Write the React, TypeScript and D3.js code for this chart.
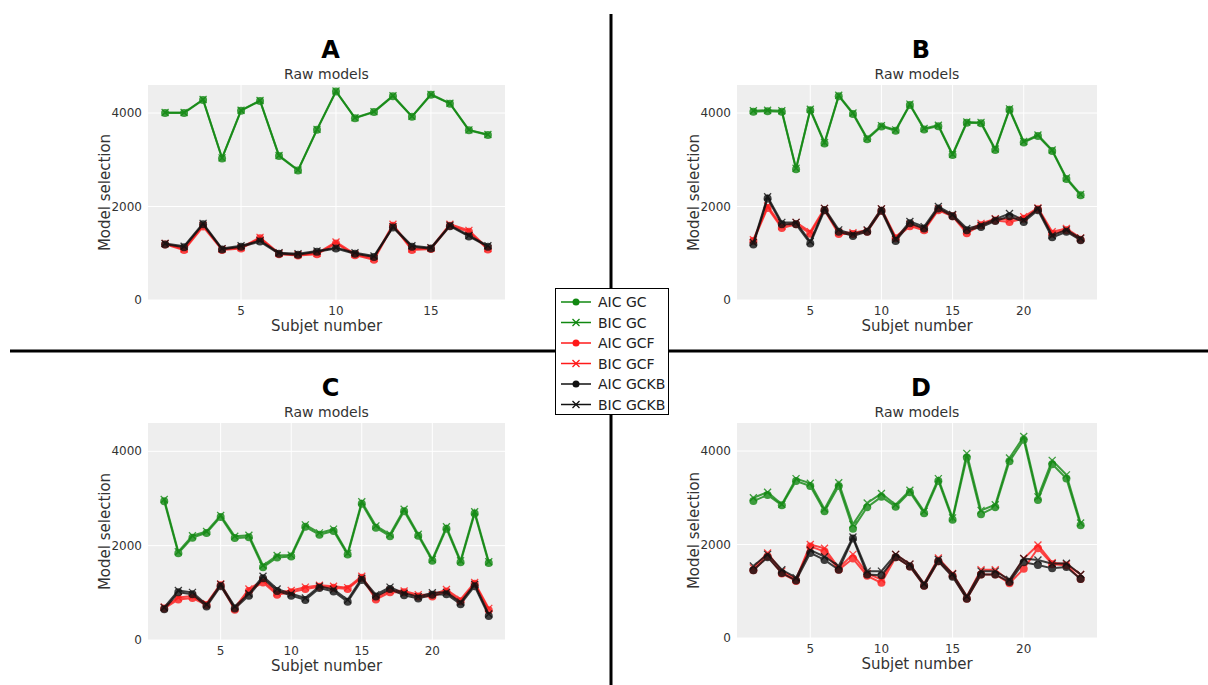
import * as d3 from 'd3'
import { useEffect, useRef } from 'react'

const seriesNames = ['AIC GC', 'BIC GC', 'AIC GCF', 'BIC GCF', 'AIC GCKB', 'BIC GCKB']
const seriesColors = ['#118811', '#118811', '#ff1a1a', '#ff1a1a', '#111111', '#111111']
const seriesMarks = ['o', 'x', 'o', 'x', 'o', 'x']
const yTicks = [0, 2000, 4000]

// panel A (18 subjects)
const aAicGC = [4000, 4000, 4280, 3030, 4050, 4260, 3080, 2770, 3640, 4460, 3890, 4020, 4360, 3920, 4390, 4200, 3630, 3530]
const aBicGC = [4010, 4010, 4290, 3040, 4060, 4270, 3090, 2780, 3650, 4470, 3900, 4030, 4370, 3930, 4400, 4210, 3640, 3540]
const aAicGCF = [1190, 1070, 1570, 1070, 1100, 1320, 980, 950, 980, 1210, 960, 860, 1590, 1070, 1090, 1590, 1460, 1080]
const aBicGCF = [1210, 1090, 1600, 1090, 1120, 1340, 1000, 970, 1000, 1240, 980, 890, 1620, 1090, 1110, 1620, 1490, 1100]
const aAicGCKB = [1190, 1130, 1620, 1080, 1140, 1250, 990, 970, 1030, 1100, 990, 920, 1550, 1140, 1100, 1580, 1360, 1140]
const aBicGCKB = [1210, 1150, 1640, 1100, 1160, 1270, 1010, 990, 1050, 1120, 1010, 940, 1570, 1160, 1120, 1600, 1380, 1160]

// panel B (24 subjects)
const bAicGC = [4030, 4040, 4030, 2800, 4060, 3350, 4360, 3980, 3440, 3710, 3620, 4170, 3650, 3720, 3100, 3790, 3780, 3210, 4070, 3370, 3510, 3190, 2590, 2240]
const bBicGC = [4050, 4060, 4050, 2820, 4080, 3370, 4380, 4000, 3460, 3730, 3640, 4190, 3670, 3740, 3120, 3810, 3800, 3230, 4090, 3390, 3530, 3210, 2610, 2260]
const bAicGCF = [1260, 1970, 1540, 1620, 1420, 1920, 1410, 1410, 1460, 1910, 1320, 1580, 1490, 1920, 1790, 1430, 1600, 1700, 1670, 1740, 1940, 1420, 1490, 1290]
const bBicGCF = [1290, 2010, 1580, 1660, 1460, 1960, 1450, 1440, 1490, 1950, 1350, 1620, 1520, 1950, 1820, 1470, 1640, 1740, 1720, 1780, 1970, 1460, 1530, 1330]
const bAicGCKB = [1190, 2170, 1620, 1620, 1210, 1920, 1460, 1370, 1460, 1910, 1260, 1640, 1530, 1960, 1790, 1490, 1560, 1690, 1790, 1670, 1920, 1340, 1460, 1280]
const bBicGCKB = [1230, 2210, 1660, 1660, 1250, 1960, 1500, 1410, 1500, 1950, 1300, 1680, 1570, 2000, 1830, 1530, 1600, 1730, 1850, 1710, 1960, 1380, 1500, 1320]

// panel C
const cAicGC = [2940, 1840, 2170, 2270, 2610, 2160, 2180, 1540, 1750, 1770, 2400, 2230, 2310, 1810, 2890, 2380, 2200, 2730, 2210, 1680, 2360, 1650, 2680, 1630]
const cBicGC = [2980, 1870, 2210, 2300, 2640, 2200, 2220, 1580, 1790, 1800, 2440, 2270, 2350, 1840, 2930, 2420, 2240, 2770, 2240, 1710, 2400, 1680, 2720, 1660]
const cAicGCF = [670, 860, 890, 740, 1160, 640, 1040, 1220, 960, 1010, 1080, 1130, 1110, 1080, 1320, 860, 1010, 1010, 920, 920, 1030, 820, 1190, 630]
const cBicGCF = [700, 900, 930, 770, 1190, 680, 1080, 1260, 1000, 1050, 1120, 1160, 1140, 1110, 1350, 900, 1050, 1040, 960, 960, 1070, 860, 1220, 670]
const cAicGCKB = [650, 1010, 970, 710, 1140, 670, 940, 1310, 1040, 940, 850, 1100, 1030, 810, 1270, 920, 1080, 950, 880, 960, 970, 760, 1140, 510]
const cBicGCKB = [690, 1050, 1010, 750, 1180, 710, 980, 1350, 1080, 980, 890, 1140, 1070, 850, 1310, 960, 1120, 990, 920, 1000, 1010, 800, 1180, 550]

// panel D
const dAicGC = [2930, 3060, 2840, 3360, 3250, 2710, 3250, 2340, 2800, 3020, 2810, 3120, 2670, 3360, 2530, 3860, 2650, 2800, 3780, 4240, 2950, 3720, 3410, 2410]
const dBicGC = [3000, 3120, 2860, 3410, 3310, 2760, 3320, 2430, 2890, 3090, 2850, 3160, 2710, 3410, 2570, 3950, 2730, 2850, 3850, 4310, 3020, 3800, 3490, 2460]
const dAicGCF = [1450, 1750, 1380, 1220, 1960, 1850, 1460, 1700, 1330, 1180, 1730, 1530, 1120, 1640, 1330, 840, 1360, 1360, 1170, 1480, 1920, 1580, 1550, 1260]
const dBicGCF = [1500, 1820, 1430, 1260, 2000, 1920, 1500, 1790, 1380, 1250, 1790, 1580, 1160, 1710, 1380, 890, 1460, 1460, 1220, 1700, 1990, 1610, 1580, 1360]
const dAicGCKB = [1450, 1730, 1390, 1230, 1820, 1670, 1460, 2130, 1360, 1340, 1730, 1530, 1120, 1640, 1310, 840, 1360, 1360, 1200, 1620, 1560, 1490, 1520, 1260]
const dBicGCKB = [1540, 1790, 1460, 1290, 1880, 1740, 1540, 2160, 1430, 1430, 1790, 1580, 1160, 1680, 1370, 890, 1430, 1430, 1250, 1700, 1670, 1590, 1600, 1360]

const panels = [
  { label: 'A', left: 148, top: 85, right: 505, bottom: 300, xMax: 18.9, xTicks: [5, 10, 15],
    series: [aAicGC, aBicGC, aAicGCF, aBicGCF, aAicGCKB, aBicGCKB] },
  { label: 'B', left: 737, top: 85, right: 1097, bottom: 300, xMax: 25.15, xTicks: [5, 10, 15, 20],
    series: [bAicGC, bBicGC, bAicGCF, bBicGCF, bAicGCKB, bBicGCKB] },
  { label: 'C', left: 148, top: 423, right: 505, bottom: 640, xMax: 25.15, xTicks: [5, 10, 15, 20],
    series: [cAicGC, cBicGC, cAicGCF, cBicGCF, cAicGCKB, cBicGCKB] },
  { label: 'D', left: 737, top: 423, right: 1097, bottom: 638, xMax: 25.15, xTicks: [5, 10, 15, 20],
    series: [dAicGC, dBicGC, dAicGCF, dBicGCF, dAicGCKB, dBicGCKB] },
]

export default function App() {
  const svgRef = useRef(null) as any

  useEffect(() => {
    const svg = d3.select(svgRef.current)
    svg.selectAll('*').remove()
    const font = '"DejaVu Sans", sans-serif'

    panels.forEach(p => {
      const n = p.series[0].length
      const xMin = n === 18 ? 0.1 : -0.15
      const x = d3.scaleLinear().domain([xMin, p.xMax]).range([p.left, p.right])
      const y = d3.scaleLinear().domain([0, 4600]).range([p.bottom, p.top])
      const g = svg.append('g')
      g.append('rect').attr('x', p.left).attr('y', p.top)
        .attr('width', p.right - p.left).attr('height', p.bottom - p.top).attr('fill', '#eeeeee')
      p.xTicks.forEach(t => {
        g.append('line').attr('x1', x(t)).attr('x2', x(t)).attr('y1', p.top).attr('y2', p.bottom)
          .attr('stroke', '#fff').attr('stroke-width', 1)
        g.append('text').attr('x', x(t)).attr('y', p.bottom + 15).attr('text-anchor', 'middle')
          .attr('font-size', 12).attr('fill', '#333').attr('font-family', font).text(t)
      })
      yTicks.forEach(t => {
        g.append('line').attr('x1', p.left).attr('x2', p.right).attr('y1', y(t)).attr('y2', y(t))
          .attr('stroke', '#fff').attr('stroke-width', 1)
        g.append('text').attr('x', p.left - 6).attr('y', y(t) + 4).attr('text-anchor', 'end')
          .attr('font-size', 12).attr('fill', '#333').attr('font-family', font).text(t)
      })
      const cx = (p.left + p.right) / 2
      g.append('text').attr('x', cx + 4).attr('y', p.top - 27).attr('text-anchor', 'middle')
        .attr('font-size', 24).attr('font-weight', 'bold').attr('font-family', font).text(p.label)
      g.append('text').attr('x', cx).attr('y', p.top - 6).attr('text-anchor', 'middle')
        .attr('font-size', 14).attr('fill', '#333').attr('font-family', font).text('Raw models')
      g.append('text').attr('x', cx).attr('y', p.bottom + 31).attr('text-anchor', 'middle')
        .attr('font-size', 15).attr('fill', '#333').attr('font-family', font).text('Subjet number')
      g.append('text').attr('transform', `translate(${p.left - 38},${(p.top + p.bottom) / 2}) rotate(-90)`)
        .attr('text-anchor', 'middle').attr('font-size', 15).attr('fill', '#333')
        .attr('font-family', font).text('Model selection')

      const line = d3.line<number>().x((_, i) => x(i + 1)).y(d => y(d))
      p.series.forEach((vals, si) => {
        const c = seriesColors[si]
        const sg = g.append('g').attr('opacity', 0.8)
        sg.append('path').attr('d', line(vals)).attr('fill', 'none').attr('stroke', c).attr('stroke-width', 2)
        vals.forEach((v, i) => {
          if (seriesMarks[si] === 'o') {
            sg.append('circle').attr('cx', x(i + 1)).attr('cy', y(v)).attr('r', 4).attr('fill', c)
          } else {
            const s = 3.5
            sg.append('path')
              .attr('d', `M${x(i + 1) - s},${y(v) - s}L${x(i + 1) + s},${y(v) + s}M${x(i + 1) - s},${y(v) + s}L${x(i + 1) + s},${y(v) - s}`)
              .attr('stroke', c).attr('stroke-width', 1.3)
          }
        })
      })
    })

    // dividers
    svg.append('line').attr('x1', 611).attr('x2', 611).attr('y1', 14).attr('y2', 685)
      .attr('stroke', '#000').attr('stroke-width', 3)
    svg.append('line').attr('x1', 10).attr('x2', 1208).attr('y1', 351).attr('y2', 351)
      .attr('stroke', '#000').attr('stroke-width', 3)

    // legend
    const lg = svg.append('g')
    lg.append('rect').attr('x', 555.5).attr('y', 288.5).attr('width', 113).attr('height', 126)
      .attr('fill', '#fff').attr('stroke', '#000').attr('stroke-width', 1)
    seriesNames.forEach((name, i) => {
      const yy = 302 + i * 20.5
      const c = seriesColors[i]
      lg.append('line').attr('x1', 561).attr('x2', 591).attr('y1', yy).attr('y2', yy)
        .attr('stroke', c).attr('stroke-width', 1.5)
      if (seriesMarks[i] === 'o') {
        lg.append('circle').attr('cx', 576).attr('cy', yy).attr('r', 3.5).attr('fill', c)
      } else {
        lg.append('path').attr('d', `M572.5,${yy - 3.5}L579.5,${yy + 3.5}M572.5,${yy + 3.5}L579.5,${yy - 3.5}`)
          .attr('stroke', c).attr('stroke-width', 1.3)
      }
      lg.append('text').attr('x', 598).attr('y', yy + 5).attr('font-size', 14)
        .attr('font-family', font).attr('fill', '#222').text(name)
    })
  }, [])

  return (
    <svg ref={svgRef} width={1208} height={685}
      style={{ position: 'absolute', left: 0, top: 0, background: '#fff' }} />
  )
}
